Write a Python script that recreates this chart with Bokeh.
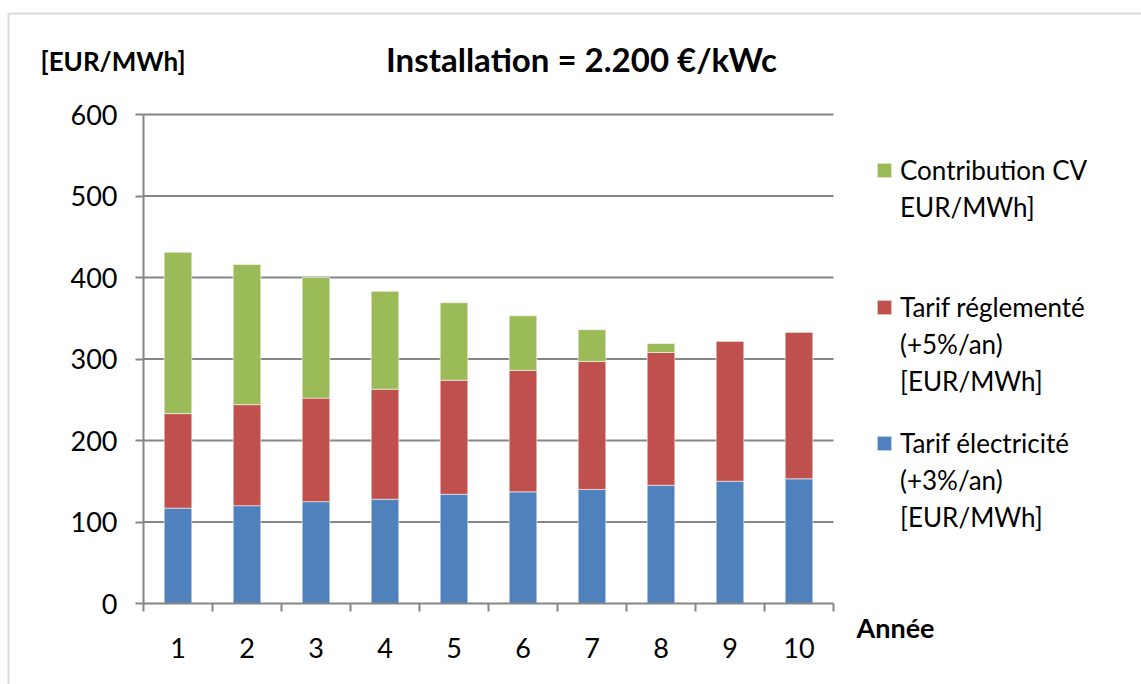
from bokeh.plotting import figure
from bokeh.models import (ColumnDataSource, FixedTicker, Legend, LegendItem,
                          Label, BoxAnnotation, Range1d)
from bokeh.embed import file_html
from bokeh.resources import INLINE

# Data (EUR/MWh), stacked from bottom to top
years = [1, 2, 3, 4, 5, 6, 7, 8, 9, 10]
year_labels = ["1", "2", "3", "4", "5", "6", "7", "8", "9", "10"]
tarif_electricite = [117, 120, 125, 128, 134, 137, 140, 145, 150, 153]
tarif_reglemente = [116, 124, 127, 135, 140, 149, 157, 163, 172, 180]
contribution_cv = [198, 172, 148, 120, 95, 67, 39, 11, 0, 0]
y_ticks = [0, 100, 200, 300, 400, 500, 600]

legend_lines = {
    "cv": ["Contribution CV", "EUR/MWh]"],
    "regl": ["Tarif réglementé", "(+5%/an)", "[EUR/MWh]"],
    "elec": ["Tarif électricité", "(+3%/an)", "[EUR/MWh]"],
}
colors = {"elec": "#4F81BD", "regl": "#C0504D", "cv": "#9BBB59"}

FONT = "Lato"
GRID = "#868686"

# canvas size and the pixel box of the plotting area inside it
W, H = 1141, 684
LEFT, RIGHT, TOP, BOTTOM = 143, 833, 114, 603
X0, X1 = 0.5, 10.5
Y0, Y1 = 0, 600


def px_to_x(px):
    return X0 + (px - LEFT) * (X1 - X0) / (RIGHT - LEFT)


def py_to_y(py):
    return Y0 + (BOTTOM - py) * (Y1 - Y0) / (BOTTOM - TOP)


src = ColumnDataSource(dict(year=years, elec=tarif_electricite,
                            regl=tarif_reglemente, cv=contribution_cv))

# the frame fills the whole canvas; axes sit at fixed data locations
p = figure(width=W, height=H, output_backend="svg", toolbar_location=None,
           x_range=Range1d(px_to_x(0), px_to_x(W)),
           y_range=Range1d(py_to_y(H), py_to_y(0)),
           min_border=0)
p.outline_line_color = None
p.background_fill_color = "white"
p.border_fill_color = "white"
p.xgrid.visible = False
p.ygrid.visible = False

# horizontal gridlines limited to the category span
grid_y = y_ticks[1:]
p.segment(x0=[X0] * len(grid_y), x1=[X1] * len(grid_y), y0=grid_y, y1=grid_y,
          line_color=GRID, line_width=2, level="underlay")

renderers = p.vbar_stack(["elec", "regl", "cv"], x="year", width=0.4,
                         source=src,
                         fill_color=[colors["elec"], colors["regl"], colors["cv"]],
                         line_color="white", line_alpha=0.55, line_width=1)
rend = dict(zip(["elec", "regl", "cv"], renderers))

# y axis
ya = p.yaxis[0]
ya.fixed_location = X0
ya.bounds = (Y0, Y1)
ya.ticker = FixedTicker(ticks=y_ticks)
ya.axis_line_color = GRID
ya.axis_line_width = 2
ya.major_tick_line_color = GRID
ya.major_tick_line_width = 2
ya.major_tick_out = 8
ya.major_tick_in = 0
ya.minor_tick_line_color = None
ya.major_label_text_font = FONT
ya.major_label_text_font_size = "27px"
ya.major_label_text_color = "black"
ya.major_label_standoff = 18

# x axis: ticks between the categories, labels under the bars
xa = p.xaxis[0]
xa.fixed_location = Y0
xa.bounds = (X0, X1)
xa.ticker = FixedTicker(ticks=years, minor_ticks=[y - 0.5 for y in years] + [X1])
xa.major_label_overrides = {y: lab for y, lab in zip(years, year_labels)}
xa.axis_line_color = GRID
xa.axis_line_width = 2
xa.major_tick_line_color = None
xa.major_tick_out = 0
xa.major_tick_in = 0
xa.minor_tick_line_color = GRID
xa.minor_tick_line_width = 2
xa.minor_tick_out = 8
xa.minor_tick_in = 0
xa.major_label_text_font = FONT
xa.major_label_text_font_size = "27px"
xa.major_label_text_color = "black"
xa.major_label_standoff = 26

# titles
p.add_layout(Label(x=px_to_x(581), y=py_to_y(58), text="Installation = 2.200 €/kWc",
                   text_font=FONT, text_font_size="33px", text_font_style="bold",
                   text_align="center", text_baseline="middle", text_color="black"))
p.add_layout(Label(x=px_to_x(40), y=py_to_y(60), text="[EUR/MWh]",
                   text_font=FONT, text_font_size="26px", text_font_style="bold",
                   text_align="left", text_baseline="middle", text_color="black"))
p.add_layout(Label(x=px_to_x(856), y=py_to_y(627), text="Année",
                   text_font=FONT, text_font_size="27px", text_font_style="bold",
                   text_align="left", text_baseline="middle", text_color="black"))

# outer chart border
p.add_layout(BoxAnnotation(left=px_to_x(8), right=px_to_x(W + 50),
                           top=py_to_y(13), bottom=py_to_y(H + 50),
                           fill_alpha=0, line_color="#888888", line_width=2))

# legend: one block per series, one row per text line
blank = p.vbar(x=[], top=[], width=0.4, fill_alpha=0, line_alpha=0)
LINE = 37
legend_first_line = {"cv": 170, "regl": 307, "elec": 443}
for key in ["cv", "regl", "elec"]:
    lines = legend_lines[key]
    items = [LegendItem(label=lines[0], renderers=[rend[key]])]
    items += [LegendItem(label=t, renderers=[blank]) for t in lines[1:]]
    top_px = legend_first_line[key] - LINE / 2
    bottom_px = top_px + LINE * len(lines)
    p.add_layout(Legend(items=items, location=(875, H - bottom_px),
                        margin=0, padding=0, spacing=0,
                        label_height=LINE, glyph_height=18, glyph_width=18,
                        label_standoff=7, label_text_font=FONT,
                        label_text_font_size="26px", label_text_color="black",
                        border_line_color=None, background_fill_alpha=0))

open("out.html", "w").write(file_html(p, INLINE))
